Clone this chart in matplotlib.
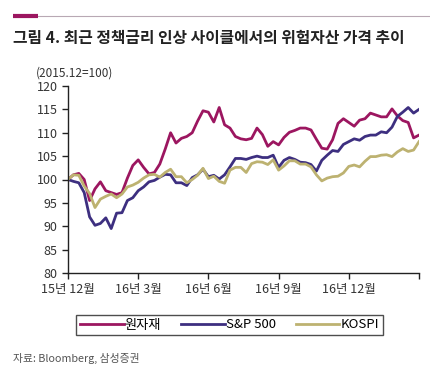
import matplotlib
matplotlib.use("Agg")
import matplotlib.pyplot as plt
from matplotlib.lines import Line2D

plt.rcParams['font.family'] = ['Noto Sans CJK KR', 'DejaVu Sans']

series_names = ['원자재', 'S&P 500', 'KOSPI']
tick_labels = ['15년 12월', '16년 3월', '16년 6월', '16년 9월', '16년 12월', '']
tick_weeks = [0, 13, 26, 39, 52, 65]

commodities = [100, 101, 101.3, 100, 95.5, 98, 99.5, 97.6, 97.2, 96.8, 97.2, 100.3,
               103, 104.2, 102.6, 101.2, 101.5, 103.3, 106.5, 110, 107.8, 108.8,
               109.2, 110, 112.5, 114.7, 114.4, 112.3, 115.4, 111.7, 111, 109.2,
               108.7, 108.5, 108.8, 111, 109.6, 107.1, 108.1, 107.4, 109, 110.1,
               110.5, 111, 111, 110.6, 108.6, 106.7, 106.5, 108.5, 112, 113,
               112.2, 111.4, 112.7, 113, 114.2, 113.8, 113.4, 113.4, 115.1, 113.6,
               112.6, 112.2, 108.9, 109.5]
sp500 = [100, 99.6, 99.3, 97.2, 92, 90.2, 90.6, 91.8, 89.5, 92.8, 92.9, 95.5,
         96.1, 97.6, 98.4, 99.5, 99.8, 100.5, 101.1, 101, 99.3, 99.3, 98.7,
         100.4, 101, 102.2, 100.6, 100.9, 100.1, 101, 102.7, 104.5, 104.5,
         104.3, 104.7, 105, 104.7, 104.7, 105.2, 102.6, 104.1, 104.7, 104.3,
         103.7, 103.6, 103.2, 101.8, 104.1, 105.2, 106.2, 106, 107.5, 108.1,
         108.7, 108.4, 109.2, 109.5, 109.5, 110.2, 110, 111.2, 113.5, 114.4,
         115.4, 114.2, 115]
kospi = [100, 101, 100.9, 98.6, 97, 94, 95.8, 96.4, 96.9, 96.1, 96.9, 98.4,
         98.8, 99.4, 100.3, 101, 101.1, 100.5, 101.5, 102.2, 100.6, 100.6,
         99.3, 100, 100.9, 102.4, 100.2, 100.7, 99.6, 99.2, 102, 102.6, 102.6,
         101.5, 103.4, 103.8, 103.7, 103.2, 104.2, 102, 102.9, 104, 104,
         103.3, 103.3, 102.7, 101, 99.7, 100.3, 100.6, 100.7, 101.4, 102.8,
         103.1, 102.7, 103.9, 104.9, 104.9, 105.2, 105.3, 104.9, 105.9, 106.6,
         106, 106.3, 108.1]

colors = ['#9C1660', '#3D2F80', '#BDB271']

fig = plt.figure(figsize=(4.3, 3.75), dpi=100)
fig.patch.set_facecolor('white')

# header rule
fig.add_artist(Line2D([13/430, 1.0], [1-16/375, 1-16/375], color='#B8A8B4', lw=0.8))
fig.add_artist(Line2D([13/430, 38/430], [1-16/375, 1-16/375], color='#9C1660', lw=3, solid_capstyle='butt'))

fig.text(13/430, 1-38/375, '그림 4. 최근 정책금리 인상 사이클에서의 위험자산 가격 추이',
         fontsize=11.4, fontweight='bold', color='#222222', va='center', ha='left')
fig.text(36/430, 1-73/375, '(2015.12=100)', fontsize=8.5, color='#333333', va='center', ha='left')

ax = fig.add_axes([68/430, 1-273/375, (419-68)/430, (273-86)/375])
weeks = list(range(len(commodities)))
for vals, c, name in zip([commodities, sp500, kospi], colors, series_names):
    ax.plot(weeks, vals, color=c, lw=2.0, label=name)

ax.set_xlim(0, 65)
ax.set_ylim(80, 120)
ax.set_yticks(range(80, 121, 5))
ax.set_xticks(tick_weeks)
ax.set_xticklabels(tick_labels)
for s in ['top', 'right']:
    ax.spines[s].set_visible(False)
for s in ['left', 'bottom']:
    ax.spines[s].set_color('#222222')
    ax.spines[s].set_linewidth(1.0)
ax.tick_params(axis='both', direction='out', length=4, width=1, color='#222222',
               labelsize=9, labelcolor='#333333')
ax.tick_params(axis='x', pad=3)

leg = fig.legend(handles=[Line2D([], [], color=c, lw=2) for c in colors], labels=series_names,
                 loc='center', bbox_to_anchor=(229.5/430, 1-325/375), ncol=3, frameon=True,
                 fancybox=False, edgecolor='#222222', fontsize=9.5, handlelength=3.3,
                 handletextpad=0.1, columnspacing=1.5, borderpad=0.3)
leg.get_frame().set_linewidth(1.0)

fig.text(13/430, 1-358/375, '자료: Bloomberg, 삼성증권', fontsize=7.8, color='#555555',
         va='center', ha='left')

fig.savefig('out.png', dpi=100)
